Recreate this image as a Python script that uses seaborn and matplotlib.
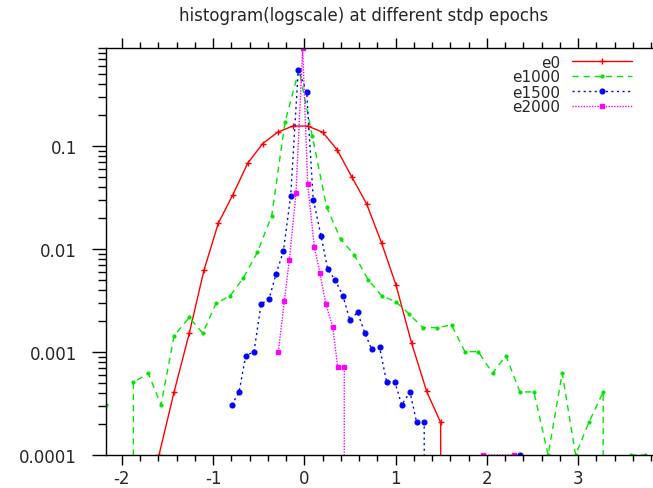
import numpy as np
import pandas as pd
import matplotlib
matplotlib.use("Agg")
import matplotlib.pyplot as plt
import matplotlib.ticker as mticker
import seaborn as sns

# bin centres / normalised counts (0 = empty bin)
e0_x = [-1.593, -1.428, -1.261, -1.100, -0.943, -0.785, -0.621, -0.457, -0.292, -0.128,
        0.036, 0.200, 0.360, 0.518, 0.682, 0.847, 1.003, 1.175, 1.340, 1.493, 1.657]
e0_y = [1.0e-4, 4.1e-4, 1.53e-3, 6.26e-3, 0.0179, 0.0336, 0.0684, 0.106, 0.137, 0.157,
        0.157, 0.137, 0.092, 0.0506, 0.0275, 0.0114, 4.5e-3, 1.22e-3, 4.14e-4, 2.07e-4, 0]

e1000_x = [-2.170, -2.022, -1.874, -1.710, -1.571, -1.428, -1.261, -1.114, -0.968, -0.815,
           -0.669, -0.516, -0.358, -0.212, -0.059, 0.087, 0.244, 0.398, 0.547, 0.700,
           0.847, 1.003, 1.149, 1.296, 1.456, 1.613, 1.759, 1.905, 2.062, 2.208,
           2.362, 2.515, 2.671, 2.825, 2.972, 3.117, 3.274, 3.420, 3.576, 3.729]
e1000_y = [3.06e-4, 0, 5.1e-4, 6.2e-4, 3.06e-4, 1.44e-3, 2.17e-3, 1.53e-3, 2.97e-3, 3.52e-3,
           5.24e-3, 9.3e-3, 0.0211, 0.172, 0.55, 0.125, 0.0255, 0.0125, 8.77e-3, 5.04e-3,
           3.52e-3, 3.08e-3, 2.34e-3, 1.73e-3, 1.73e-3, 1.83e-3, 1.01e-3, 1.01e-3, 6.24e-4, 9.2e-4,
           4.1e-4, 4.1e-4, 1.0e-4, 6.24e-4, 1.0e-4, 2.07e-4, 4.1e-4, 0, 1.0e-4, 1.0e-4]

e1500_x = [-0.796, -0.716, -0.643, -0.552, -0.475, -0.388, -0.311, -0.231, -0.150, -0.067,
           0.025, 0.097, 0.182, 0.255, 0.338, 0.423, 0.499, 0.582, 0.664, 0.737,
           0.823, 0.901, 0.992, 1.066, 1.157, 1.230, 1.313, 1.394, 2.362]
e1500_y = [3.06e-4, 4.1e-4, 9.2e-4, 1.01e-3, 2.92e-3, 3.27e-3, 5.73e-3, 9.5e-3, 0.033, 0.556,
           0.335, 0.0303, 0.0135, 6.4e-3, 5.0e-3, 3.5e-3, 2.04e-3, 2.43e-3, 1.52e-3, 1.07e-3,
           1.12e-3, 5.13e-4, 5.13e-4, 3.06e-4, 4.1e-4, 2.07e-4, 2.07e-4, 0, 1.0e-4]

e2000_x = [-0.286, -0.220, -0.165, -0.092, -0.019, 0.036, 0.108, 0.171, 0.237, 0.310,
           0.365, 0.437, 0.500, 1.960, 2.300]
e2000_y = [1.01e-3, 3.1e-3, 7.9e-3, 0.035, 0.89, 0.043, 0.0106, 5.8e-3, 2.9e-3, 1.76e-3,
           7.2e-4, 7.2e-4, 0, 1.0e-4, 1.0e-4]

labels = ["e0", "e1000", "e1500", "e2000"]

sns.set_style("ticks")
plt.rcParams["font.family"] = ["DejaVu Sans"]
plt.rcParams["axes.unicode_minus"] = False

fig = plt.figure(figsize=(6.53, 4.89), dpi=100)
ax = fig.add_axes([106 / 653, 33 / 489, 547 / 653, 407 / 489])
ax.set_yscale("log")

series = [
    (e0_x, e0_y, dict(color="#ff0000", linestyle="-", marker="+", markersize=5)),
    (e1000_x, e1000_y, dict(color="#00e600", linestyle=(0, (4.5, 3.5)), marker="o", markersize=2.0)),
    (e1500_x, e1500_y, dict(color="#0000ff", linestyle=(0, (1.5, 2.5)), marker="o", markersize=3.4)),
    (e2000_x, e2000_y, dict(color="#ff00ff", linestyle=(0, (1, 1)), marker="s", markersize=3.2)),
]
for name, (xs, ys, kw) in zip(labels, series):
    df = pd.DataFrame({"x": xs, "y": ys})
    sns.lineplot(data=df, x="x", y="y", ax=ax, label=name, estimator=None, sort=False,
                 linewidth=1, markeredgecolor=kw["color"], markeredgewidth=1, **kw)

ax.set_xlabel("")
ax.set_ylabel("")
ax.set_xlim(-2.174, 3.82)
ax.set_ylim(1e-4, 0.9)

ax.xaxis.set_major_locator(mticker.MultipleLocator(1))
ax.xaxis.set_minor_locator(mticker.MultipleLocator(0.2))
ax.yaxis.set_major_locator(mticker.LogLocator(base=10, numticks=10))
ax.yaxis.set_minor_locator(mticker.LogLocator(base=10, subs=np.arange(2, 10), numticks=20))
ax.yaxis.set_major_formatter(mticker.FuncFormatter(lambda v, p: f"{v:g}"))
ax.yaxis.set_minor_formatter(mticker.NullFormatter())

for s in ["left", "bottom", "top"]:
    ax.spines[s].set_color("black")
    ax.spines[s].set_linewidth(1)
ax.spines["right"].set_visible(False)

ax.tick_params(which="both", direction="out", top=True, right=False, width=1,
               color="black", labelcolor="#262626", labelsize=12)
ax.tick_params(axis="x", which="major", length=7, pad=3)
ax.tick_params(axis="x", which="minor", length=4)
ax.tick_params(axis="y", which="major", length=10, pad=11)
ax.tick_params(axis="y", which="minor", length=6)

ax.set_title("histogram(logscale) at different stdp epochs", x=(364 - 106) / 547,
             y=1 + 28 / 407, pad=0, fontsize=12, color="#262626")

# gnuplot-style key: right-aligned labels, sample line on the right
leg = ax.legend(loc="upper right", bbox_to_anchor=(632 / 653, 1 - 55.5 / 489),
                bbox_transform=fig.transFigure, frameon=False, markerfirst=False,
                fontsize=11, labelspacing=0.0, handlelength=3.9, handletextpad=0.78,
                borderpad=0, borderaxespad=0, numpoints=1)
for t in leg.get_texts():
    t.set_color("#262626")

fig.savefig("out.png", dpi=100)
